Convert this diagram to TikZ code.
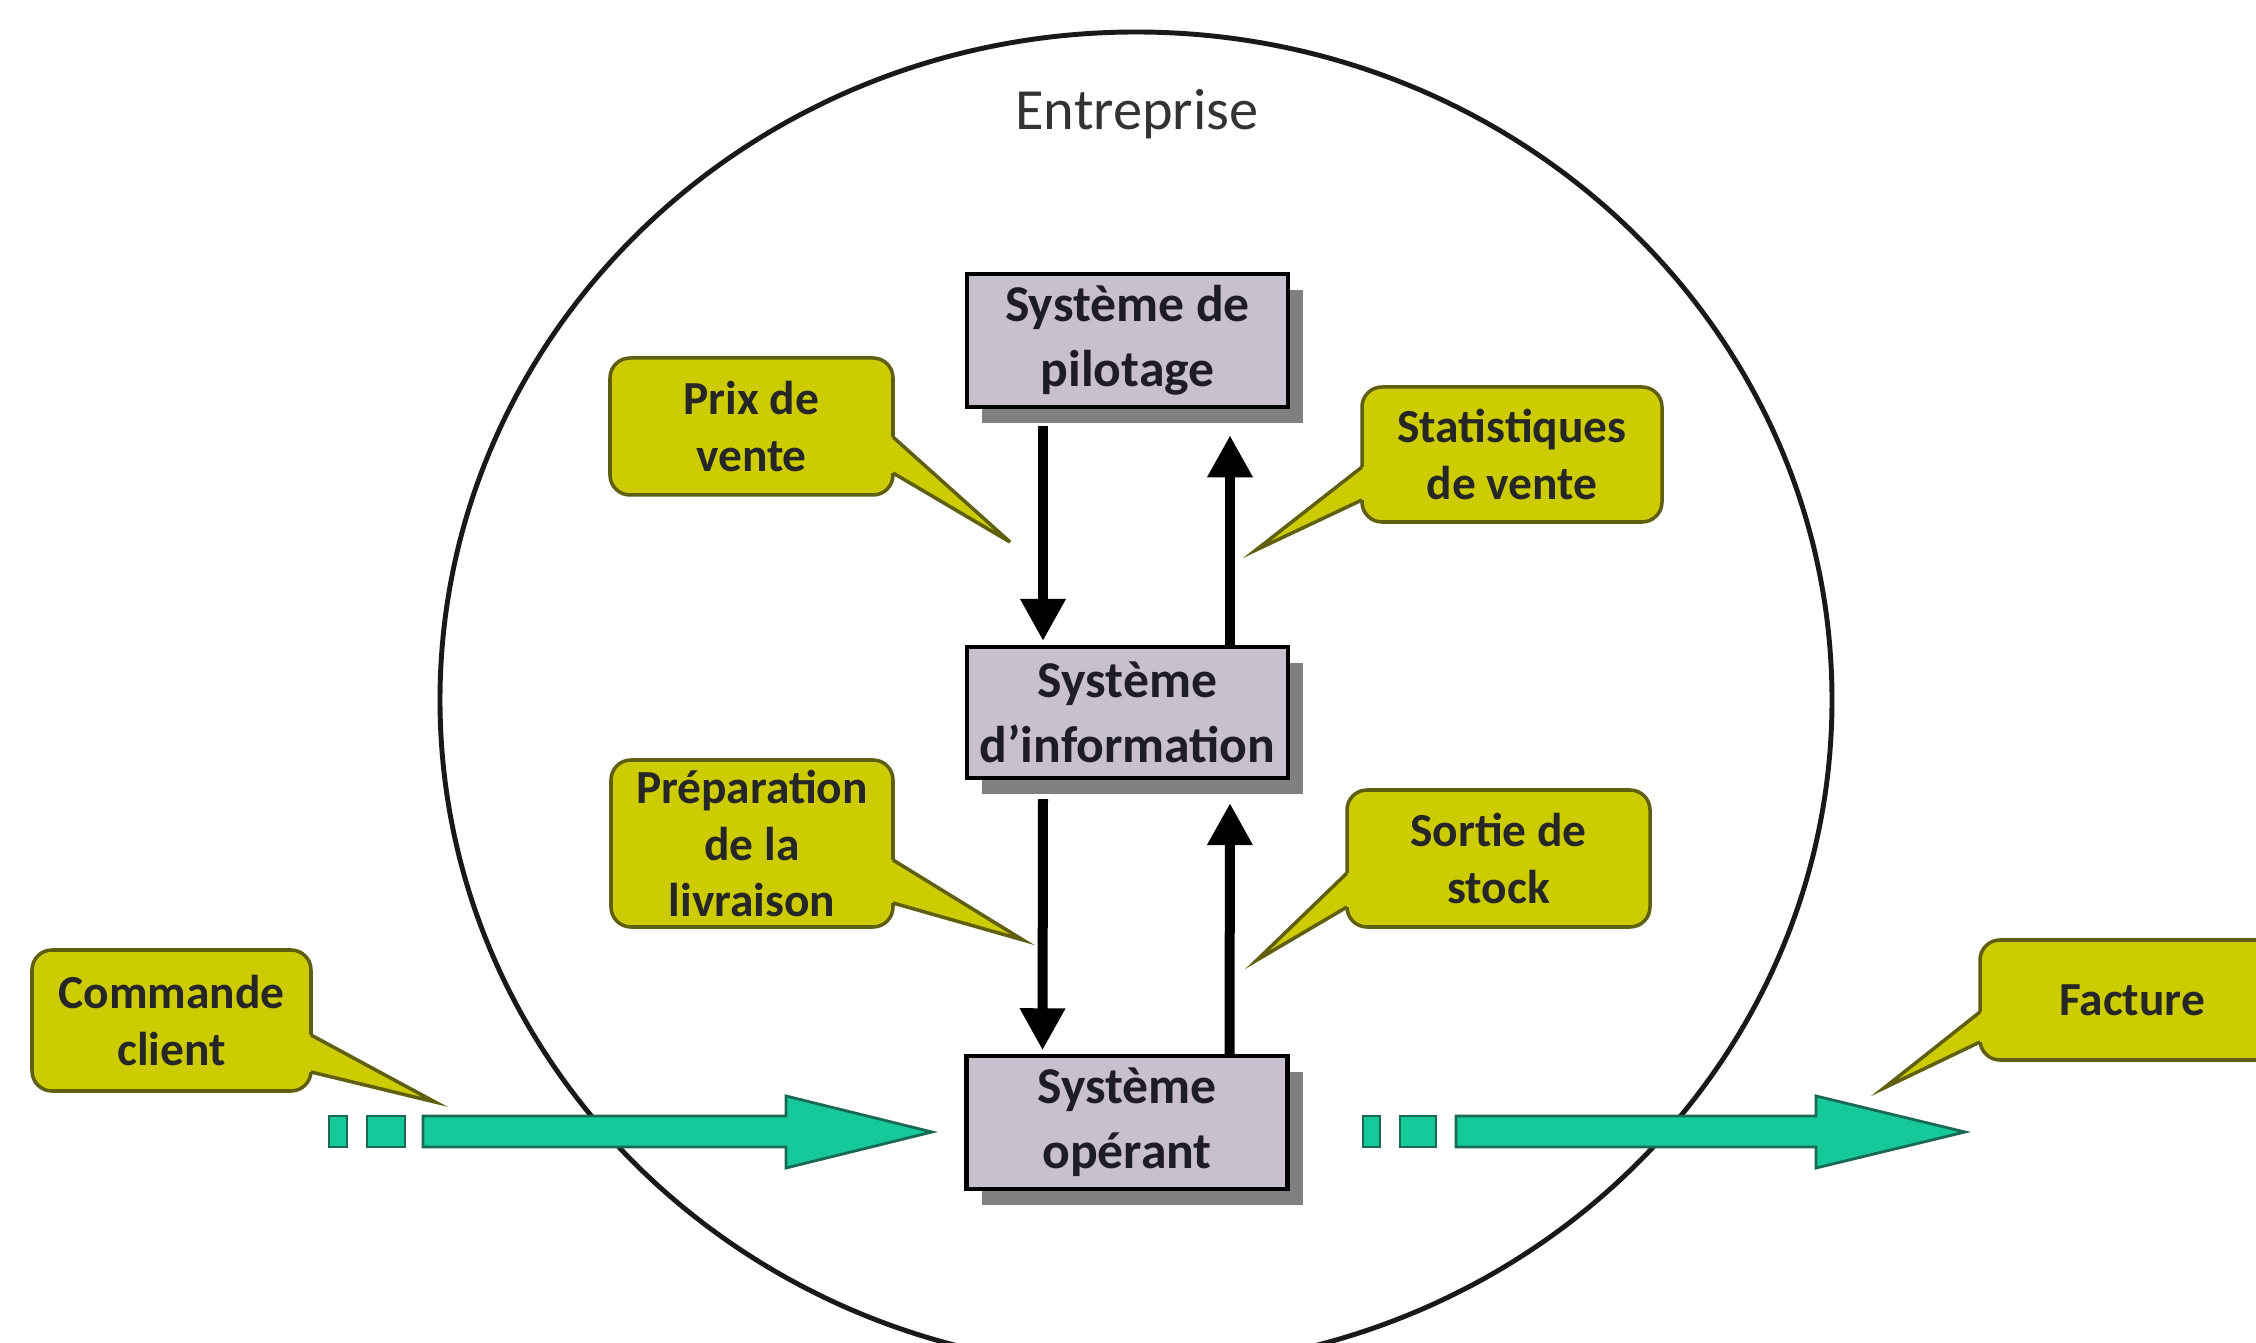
\documentclass[tikz,border=0pt]{standalone}
\usepackage{fontspec}
\setmainfont{Carlito}
\usetikzlibrary{arrows.meta,shadows,calc}

\definecolor{sysfill}{RGB}{201,192,207}
\definecolor{bullefill}{RGB}{204,204,0}
\definecolor{bulledraw}{RGB}{95,95,15}
\definecolor{fluxfill}{RGB}{22,201,155}
\definecolor{fluxdraw}{RGB}{25,105,85}
\definecolor{ombre}{RGB}{128,128,128}
\definecolor{texte}{RGB}{30,28,36}

\tikzset{
  systeme/.style={draw=black, line width=1.2pt, fill=sysfill, text=texte,
    minimum width=3.21cm, minimum height=1.31cm, align=center,
    font=\fontsize{14.7}{18.5}\selectfont\bfseries,
    drop shadow={shadow xshift=0.15cm, shadow yshift=-0.16cm, fill=ombre, opacity=1}},
  bulle/.style={draw=bulledraw, line width=1pt, fill=bullefill, rounded corners=0.2cm,
    align=center, inner sep=0pt, text=black!85,
    font=\fontsize{13.5}{16}\selectfont\bfseries},
  fleche/.style={line width=0.1cm, -{Triangle[width=0.43cm,length=0.42cm]}},
  flux/.style={draw=fluxdraw, fill=fluxfill, line width=0.8pt}
}

% pointe d'une bulle : debut de base, pointe, fin de base, decalage vers l'interieur
\newcommand{\pointe}[4]{%
  \fill[bullefill] ($(#1)+(#4)$) -- (#1) -- (#2) -- (#3) -- ($(#3)+(#4)$) -- cycle;
  \draw[bulledraw, line width=1pt] (#1) -- (#2) -- (#3);}

\begin{document}
\begin{tikzpicture}
\fill[white] (0,0) rectangle (22.56,-13.43);
\useasboundingbox (0,0) rectangle (22.56,-13.43);

% l'entreprise
\draw[line width=1.4pt, black!90] (11.36,-7.00) ellipse (6.96cm and 6.68cm);
\node[font=\fontsize{16.6}{20}\selectfont, text=black!80] (entreprise) at (11.37,-1.14) {Entreprise};

% les trois systemes
\node[systeme] (pil) at (11.275,-3.405) {Système de\\pilotage};
\node[systeme] (info) at (11.275,-7.125) {Système\\d’information};
\node[systeme] (op) at (11.27,-11.225) {Système\\opérant};

\draw[fleche] ([xshift=-0.845cm,yshift=-0.17cm]pil.south) -- ([xshift=-0.845cm,yshift=0.04cm]info.north);
\draw[fleche] ([xshift=1.025cm]info.north) -- ([xshift=1.025cm,yshift=-0.26cm]pil.south);
\draw[fleche] ([xshift=-0.845cm,yshift=-0.19cm]info.south) -- ([xshift=-0.845cm,yshift=0.04cm]op.north);
\draw[fleche] ([xshift=1.025cm]op.north) -- ([xshift=1.025cm,yshift=-0.23cm]info.south);

% flux entrant et sortant
\draw[flux] (3.29,-11.16) rectangle (3.47,-11.47);
\draw[flux] (3.67,-11.16) rectangle (4.05,-11.47);
\draw[flux] (4.23,-11.16) -- (7.86,-11.16) -- (7.86,-10.96) -- (9.32,-11.32)
  -- (7.86,-11.68) -- (7.86,-11.47) -- (4.23,-11.47) -- cycle;
\draw[flux] (13.63,-11.16) rectangle (13.80,-11.47);
\draw[flux] (14.00,-11.16) rectangle (14.36,-11.47);
\draw[flux] (14.56,-11.16) -- (18.16,-11.16) -- (18.16,-10.96) -- (19.65,-11.32)
  -- (18.16,-11.68) -- (18.16,-11.47) -- (14.56,-11.47) -- cycle;

% les bulles
\node[bulle, minimum width=2.83cm, minimum height=1.37cm] (prix) at (7.515,-4.265) {Prix de\\vente};
\coordinate (prixpt) at (10.10,-5.42);
\pointe{8.93,-4.37}{prixpt}{8.93,-4.73}{-0.08,0}

\node[bulle, minimum width=3.00cm, minimum height=1.35cm] (stat) at (15.12,-4.545) {Statistiques\\de vente};
\coordinate (statpt) at (12.56,-5.50);
\pointe{13.62,-4.67}{statpt}{13.62,-5.00}{0.08,0}

\node[bulle, minimum width=2.82cm, minimum height=1.67cm] (prep) at (7.52,-8.435) {Préparation\\de la\\livraison};
\coordinate (preppt) at (10.23,-9.40);
\pointe{8.93,-8.60}{preppt}{8.93,-9.03}{-0.08,0}

\node[bulle, minimum width=3.03cm, minimum height=1.37cm] (sortie) at (14.985,-8.585) {Sortie de\\stock};
\coordinate (sortiept) at (12.57,-9.60);
\pointe{13.47,-8.73}{sortiept}{13.47,-9.07}{0.08,0}

\node[bulle, minimum width=2.79cm, minimum height=1.41cm] (cmd) at (1.715,-10.205) {Commande\\client};
\coordinate (cmdpt) at (4.35,-11.02);
\pointe{3.11,-10.35}{cmdpt}{3.11,-10.72}{-0.08,0}

\node[bulle, minimum width=3.04cm, minimum height=1.20cm] (fact) at (21.32,-10.00) {Facture};
\coordinate (factpt) at (18.84,-10.88);
\pointe{19.80,-10.12}{factpt}{19.80,-10.42}{0.08,0}

\end{tikzpicture}
\end{document}
